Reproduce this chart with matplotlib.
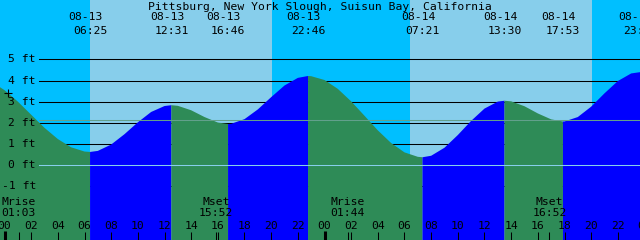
import matplotlib
matplotlib.use('Agg')
import numpy as np
import matplotlib.pyplot as plt
from matplotlib.transforms import blended_transform_factory

title = 'Pittsburg, New York Slough, Suisun Bay, California'

# tide height (ft), hourly from 08-13 -01h to 08-14 24h
hours = list(range(-1, 49))
heights = [3.96, 3.55, 3.01, 2.39, 1.77, 1.24, 0.85, 0.65,
           0.68, 0.98, 1.47, 2.03, 2.52, 2.80,
           2.81, 2.60, 2.28, 2.02,
           1.96, 2.18, 2.64, 3.22, 3.77, 4.13,
           4.21, 4.03, 3.61, 3.02, 2.34, 1.65, 1.05, 0.61, 0.40,
           0.45, 0.83, 1.43, 2.10, 2.68, 3.01,
           3.02, 2.79, 2.45, 2.17,
           2.07, 2.28, 2.77, 3.40, 3.98, 4.34, 4.39]

# high / low tides
tide_dates = ['08-13', '08-13', '08-13', '08-13', '08-14', '08-14', '08-14', '08-14']
tide_times = ['06:25', '12:31', '16:46', '22:46', '07:21', '13:30', '17:53', '23:40']
tide_kind = ['low', 'high', 'low', 'high', 'low', 'high', 'low', 'high']
tide_heights = [0.63, 2.84, 1.95, 4.22, 0.38, 3.05, 2.07, 4.40]

# daylight (hours from 08-13 00:00)
day_start = [6.42, 30.42]
day_end = [20.07, 44.07]

moon_events = ['Mrise', 'Mset', 'Mrise', 'Mset']
moon_times = ['01:03', '15:52', '01:44', '16:52']
moon_day = [0, 0, 1, 1]

level_labels = [5, 4, 3, 2, 1, 0, -1]
msl = 2.13
marker_hour, marker_ft = 0.26, 3.42

NIGHT = '#00BFFF'
DAY = '#87CEEB'
RISING = '#0000FF'
FALLING = '#2E8B57'
FS = 8.2
FONT = 'DejaVu Sans Mono'


def to_hours(s, day=0):
    hh, mm = s.split(':')
    return 24 * day + int(hh) + int(mm) / 60.0


def px(p):
    # pixel row -> axes fraction
    return 1 - p / 240.0


tide_day = [0 if d == '08-13' else 1 for d in tide_dates]
tide_hours = [to_hours(t, d) for t, d in zip(tide_times, tide_day)]

t_all = np.array(hours + tide_hours, dtype=float)
h_all = np.array(heights + tide_heights, dtype=float)
order = np.argsort(t_all)
t_all, h_all = t_all[order], h_all[order]

fig = plt.figure(figsize=(6.4, 2.4), dpi=100, facecolor=NIGHT)
ax = fig.add_axes([0, 0, 1, 1])
ax.set_xlim(-0.3375, 47.6625)
ax.set_ylim(-3.53, 7.81)
ax.axis('off')

for a, b in zip(day_start, day_end):
    ax.axvspan(a, b, color=DAY, lw=0, zorder=0)

for lv in level_labels:
    ax.axhline(lv, xmin=39 / 640, xmax=1, color='black', lw=0.75, zorder=1)

bounds = [t_all[0]] + tide_hours + [t_all[-1]]
for i in range(len(bounds) - 1):
    a, b = bounds[i], bounds[i + 1]
    m = (t_all >= a) & (t_all <= b)
    rising = i < len(tide_kind) and tide_kind[i] == 'high'
    ax.fill_between(t_all[m], -10, h_all[m], color=RISING if rising else FALLING,
                    lw=0, zorder=2)

ax.axhline(0, xmin=39 / 640, xmax=1, color=DAY, lw=0.75, zorder=3)
ax.axhline(msl, xmin=39 / 640, xmax=1, color='#62a08c', lw=0.75, zorder=3)

ytrans = blended_transform_factory(ax.transAxes, ax.transData)
for lv in level_labels:
    ax.text(36 / 640, lv, '%d ft' % lv, transform=ytrans, ha='right', va='center',
            fontsize=FS, family=FONT, zorder=4)

ax.plot([marker_hour], [marker_ft], marker='+', color='black', ms=5.5, mew=0.8, zorder=4)

xtrans = blended_transform_factory(ax.transData, ax.transAxes)
ax.text(0.5, px(6.5), title, transform=ax.transAxes, ha='center', va='center',
        fontsize=FS, family=FONT, zorder=4)
for d, t, h in zip(tide_dates, tide_times, tide_hours):
    ax.annotate(d, (h, px(17.5)), xycoords=xtrans, xytext=(-3, 0), textcoords='offset points',
                ha='center', va='center', fontsize=FS, family=FONT, zorder=4, annotation_clip=False)
    ax.text(h, px(30.5), t, transform=xtrans, ha='center', va='center',
            fontsize=FS, family=FONT, zorder=4)

for ev, t, d in zip(moon_events, moon_times, moon_day):
    h = to_hours(t, d)
    ax.text(h, px(202), ev, transform=xtrans, ha='center', va='center',
            fontsize=FS, family=FONT, zorder=4)
    ax.text(h, px(213.5), t, transform=xtrans, ha='center', va='center',
            fontsize=FS, family=FONT, zorder=4)
    ax.vlines(h, 0, px(232), transform=xtrans, color='black', lw=0.75, zorder=4)

for hr in range(0, 49, 2):
    thick = hr % 24 == 0
    ax.vlines(hr, 0, px(231 if thick else 232), transform=xtrans, color='black',
              lw=2.2 if thick else 0.75, zorder=4)
    ax.text(hr, px(226), '%02d' % (hr % 24), transform=xtrans, ha='center', va='center',
            fontsize=FS, family=FONT, zorder=4)

fig.savefig('out.png', dpi=100, facecolor=NIGHT)
